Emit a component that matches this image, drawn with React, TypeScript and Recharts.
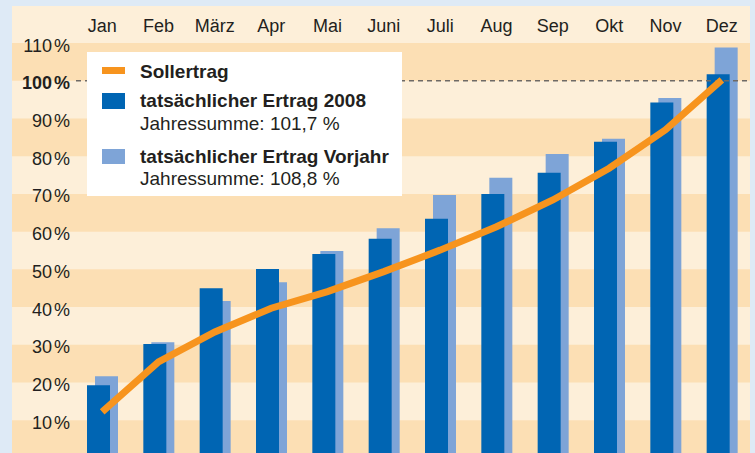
import {
  ComposedChart,
  Bar,
  Line,
  XAxis,
  YAxis,
  ReferenceArea,
  ReferenceLine,
} from "recharts";

// ─── Daten ───────────────────────────────────────────────────────────────────

const months = ["Jan", "Feb", "März", "Apr", "Mai", "Juni", "Juli", "Aug", "Sep", "Okt", "Nov", "Dez"];
const sollertrag = [12.2, 25.5, 33.4, 39.7, 44.1, 49.4, 55.1, 61.3, 68.4, 76.8, 87.0, 100.2];
const ertrag2008 = [19.3, 30.2, 45.0, 50.1, 54.1, 58.1, 63.4, 70.0, 75.6, 83.8, 94.2, 101.7];
const ertragVorjahr = [21.7, 30.7, 41.6, 46.6, 54.9, 60.9, 69.7, 74.3, 80.6, 84.6, 95.4, 108.8];
const yTicks = [10, 20, 30, 40, 50, 60, 70, 80, 90, 100, 110];
const summe2008 = "101,7";
const summeVorjahr = "108,8";

const data = months.map((month, i) => ({
  month,
  soll: sollertrag[i],
  e2008: ertrag2008[i],
  vorjahr: ertragVorjahr[i],
}));

// darker stripes: 0–10, 20–30, … 100–110
const bandEdges = [0, ...yTicks];
const bands = bandEdges
  .map((v, i) => [v, bandEdges[i + 1]])
  .filter((b, i) => i % 2 === 0 && b[1] !== undefined);

const FONT = '"Liberation Sans", Arial, sans-serif';
const TEXT = "#231f20";
const ORANGE = "#f7941e";
const DARK = "#0065b3";
const LIGHT = "#7ea4d7";
const BAND_DARK = "#fcdfb4";
const BAND_LIGHT = "#fdefd9";
const OUTER = "#deeaf6";

function MonthTick({ x, payload }: any) {
  return (
    <text x={x} y={31.5} textAnchor="middle" fontSize={18} fill={TEXT} fontFamily={FONT}>
      {payload.value}
    </text>
  );
}

function PercentTick({ y, payload }: any) {
  const bold = payload.value === 100;
  return (
    <text
      x={70}
      y={y + 8.5}
      textAnchor="end"
      fontSize={18}
      fontWeight={bold ? 700 : 400}
      fill={TEXT}
      fontFamily={FONT}
    >
      {payload.value}
      <tspan dx={2}>%</tspan>
    </text>
  );
}

function DashedFrom(props: any) {
  const { x1, y1, x2, y2 } = props;
  return (
    <line
      x1={x1 + 64}
      y1={y1}
      x2={x2}
      y2={y2}
      stroke="#6e6a66"
      strokeWidth={1.5}
      strokeDasharray="5 4"
    />
  );
}

function LegendBox() {
  const title = { fontWeight: 700, fontSize: 19 };
  const sub = { fontWeight: 400, fontSize: 19 };
  const row = (top: number) => ({
    position: "absolute" as const,
    left: 53,
    top,
    lineHeight: "19px",
    whiteSpace: "nowrap" as const,
  });
  const swatch = (top: number, h: number, c: string) => ({
    position: "absolute" as const,
    left: 15,
    top,
    width: 23,
    height: h,
    background: c,
  });
  return (
    <div
      style={{
        position: "absolute",
        left: 87,
        top: 52,
        width: 315,
        height: 144,
        background: "#fff",
        fontFamily: FONT,
        color: TEXT,
      }}
    >
      <div style={swatch(15, 7, ORANGE)} />
      <div style={{ ...row(10), ...title }}>Sollertrag</div>
      <div style={swatch(41, 16, DARK)} />
      <div style={{ ...row(39), ...title }}>tatsächlicher Ertrag 2008</div>
      <div style={{ ...row(62), ...sub }}>Jahressumme: {summe2008} %</div>
      <div style={swatch(97, 15, LIGHT)} />
      <div style={{ ...row(95), ...title }}>tatsächlicher Ertrag Vorjahr</div>
      <div style={{ ...row(117), ...sub }}>Jahressumme: {summeVorjahr} %</div>
    </div>
  );
}

export default function App() {
  return (
    <div
      style={{
        position: "absolute",
        left: 0,
        top: 0,
        width: 755,
        height: 453,
        overflow: "hidden",
        background: OUTER,
      }}
    >
      <div
        style={{ position: "absolute", left: 12, top: 6, width: 738, height: 447, background: BAND_LIGHT }}
      />
      <div style={{ position: "absolute", left: 0, top: 0 }}>
        <ComposedChart width={755} height={458} data={data} margin={{ top: 6, right: 1, left: 11, bottom: 0 }}>
          <XAxis xAxisId="full" dataKey="month" hide />
          <XAxis xAxisId="dark" dataKey="month" hide padding={{ left: 58, right: 8 }} />
          <XAxis xAxisId="light" dataKey="month" hide padding={{ left: 66, right: 0 }} />
          <XAxis
            xAxisId="mid"
            dataKey="month"
            orientation="top"
            height={37}
            padding={{ left: 62, right: 4 }}
            axisLine={false}
            tickLine={false}
            tick={<MonthTick />}
            interval={0}
          />
          <YAxis
            width={1}
            domain={[0, 110]}
            ticks={yTicks}
            axisLine={false}
            tickLine={false}
            tick={<PercentTick />}
            interval={0}
          />
          {bands.map(([a, b]) => (
            <ReferenceArea
              key={a}
              xAxisId="full"
              y1={a}
              y2={b}
              fill={BAND_DARK}
              fillOpacity={1}
              stroke="none"
            />
          ))}
          <ReferenceLine xAxisId="full" y={100} shape={<DashedFrom />} />
          <Bar xAxisId="light" dataKey="vorjahr" fill={LIGHT} barSize={23} isAnimationActive={false} />
          <Bar xAxisId="dark" dataKey="e2008" fill={DARK} barSize={23} isAnimationActive={false} />
          <Line
            xAxisId="mid"
            dataKey="soll"
            type="linear"
            stroke={ORANGE}
            strokeWidth={7}
            dot={false}
            activeDot={false}
            isAnimationActive={false}
          />
        </ComposedChart>
      </div>
      <div style={{ position: "absolute", left: 750, top: 0, width: 5, height: 453, background: OUTER }} />
      <LegendBox />
    </div>
  );
}
